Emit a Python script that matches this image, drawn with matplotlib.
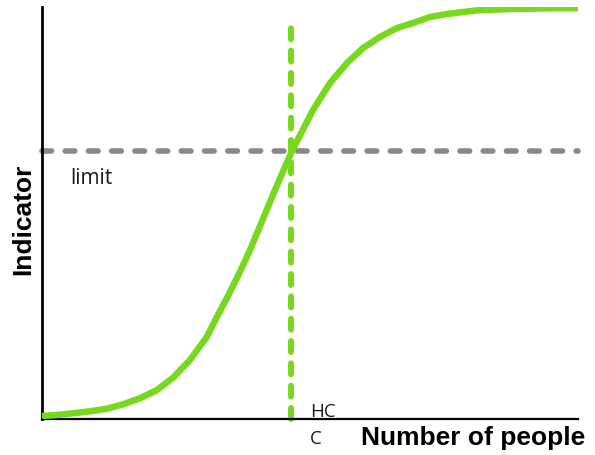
import matplotlib
matplotlib.use("Agg")
import matplotlib.pyplot as plt

# S-curve, x: 0-100, y: 0-100
curve_x = [0, 2.80, 5.78, 8.96, 12.13, 15.11, 18.28, 21.46, 24.44, 27.61, 30.78,
           32.65, 34.51, 36.94, 38.81, 43.47, 46.64, 50.56, 53.73, 56.90,
           59.89, 63.06, 66.23, 69.22, 72.39, 75.56, 78.54, 81.72, 87.87, 94.22,
           100]
curve_y = [0.73, 0.97, 1.38, 1.87, 2.50, 3.57, 5.03, 7.04, 10.02, 14.32, 19.98,
           24.83, 29.37, 35.75, 41.02, 55.58, 65.05, 75.0, 81.55, 86.41,
           90.05, 92.72, 94.90, 96.12, 97.57, 98.30, 98.79, 99.27, 99.51, 99.68,
           99.70]
limit_y = 65.0
hcc_x = 46.45
hcc_top = 95.4

GREEN = "#78d81e"
GREY = "#888888"

fig = plt.figure(figsize=(5.95, 4.55), dpi=100)
ax = fig.add_axes([0.0706, 0.0791, 0.9714 - 0.0706, 0.9846 - 0.0791])
ax.set_xlim(0, 100)
ax.set_ylim(0, 100)

ax.plot(curve_x, curve_y, color=GREEN, lw=4.7, solid_capstyle="butt",
        solid_joinstyle="round", zorder=3)
ax.plot([0, 100], [limit_y, limit_y], color=GREY, lw=4.0,
        dashes=(1.73, 2.45), dash_capstyle="round", zorder=2, clip_on=False)
ax.plot([hcc_x, hcc_x], [0, hcc_top], color=GREEN, lw=4.3,
        dashes=(1.84, 1.90), dash_capstyle="round", zorder=2, clip_on=False)

for s in ["top", "right"]:
    ax.spines[s].set_visible(False)
ax.spines["left"].set_linewidth(2.0)
ax.spines["bottom"].set_linewidth(1.6)
ax.set_xticks([])
ax.set_yticks([])

TXT = "#1a1a1a"
fig.text(70 / 595, 1 - 184 / 455, "limit", fontsize=15, family="Open Sans",
         color=TXT, va="baseline", ha="left")
fig.text(310 / 595, 1 - 417 / 455, "HC", fontsize=13.5, family="Open Sans",
         color=TXT, va="baseline", ha="left")
fig.text(310 / 595, 1 - 444 / 455, "C", fontsize=13.5, family="Open Sans",
         color=TXT, va="baseline", ha="left")

fig.text(585 / 595, 1 - 445 / 455, "Number of people", fontsize=19,
         family="Liberation Sans", weight="bold", ha="right", va="baseline")
fig.text(23 / 595, 1 - 219 / 455, "Indicator", fontsize=19, rotation=90,
         family="Liberation Sans", weight="bold", ha="center", va="center")

fig.savefig("out.png", dpi=100)
